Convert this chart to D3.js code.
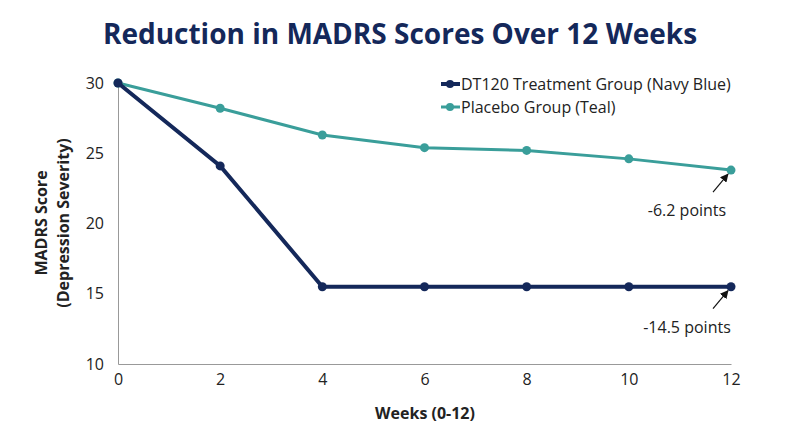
<!DOCTYPE html>
<html><head><meta charset="utf-8">
<script src="https://cdn.jsdelivr.net/npm/d3@7"></script>
<style>body{margin:0;background:#fff}text{font-family:"Open Sans",Lato,sans-serif}</style>
</head><body><svg id="main" width="800" height="447"></svg>
<script>
var weeks = [0, 2, 4, 6, 8, 10, 12];
var dt120 = [30, 24.1, 15.5, 15.5, 15.5, 15.5, 15.5];
var placebo = [30, 28.2, 26.3, 25.4, 25.2, 24.6, 23.8];
var yTicks = [10, 15, 20, 25, 30];
var seriesNames = ["DT120 Treatment Group (Navy Blue)", "Placebo Group (Teal)"];
var navy = "#14285a", teal = "#3a9e9a";

var svg = d3.select("#main");
var x = d3.scaleLinear().domain([0, 12]).range([118, 731]);
var y = d3.scaleLinear().domain([10, 30]).range([364, 83]);

svg.append("text").attr("x", 400).attr("y", 44).attr("text-anchor", "middle")
    .attr("font-size", 28).attr("font-weight", "bold").attr("fill", navy)
    .text("Reduction in MADRS Scores Over 12 Weeks");

var gx = svg.append("g").attr("transform", "translate(0,364)")
    .call(d3.axisBottom(x).tickValues(weeks).tickSize(0).tickPadding(10));
gx.select(".domain").attr("stroke", "#999");
gx.selectAll("text").attr("font-size", 16).attr("fill", "#222");

var gy = svg.append("g").attr("transform", "translate(118,0)")
    .call(d3.axisLeft(y).tickValues(yTicks).tickSize(0).tickPadding(14));
gy.select(".domain").attr("stroke", "#999");
gy.selectAll("text").attr("font-size", 16).attr("fill", "#222");

svg.append("text").attr("x", 425).attr("y", 419).attr("text-anchor", "middle")
    .attr("font-size", 16).attr("font-weight", "bold").attr("fill", "#222").text("Weeks (0-12)");
var yl = svg.append("text").attr("transform", "translate(50,223) rotate(-90)")
    .attr("text-anchor", "middle").attr("font-size", 16).attr("font-weight", "bold").attr("fill", "#222");
yl.append("tspan").attr("x", 0).attr("dy", -3).text("MADRS Score");
yl.append("tspan").attr("x", 0).attr("dy", 22).text("(Depression Severity)");

var line = d3.line().x(function (d, i) { return x(weeks[i]); }).y(function (d) { return y(d); });
[[placebo, teal, 3], [dt120, navy, 4]].forEach(function (s) {
    svg.append("path").datum(s[0]).attr("d", line).attr("fill", "none")
        .attr("stroke", s[1]).attr("stroke-width", s[2]);
    svg.selectAll(null).data(s[0]).enter().append("circle")
        .attr("cx", function (d, i) { return x(weeks[i]); })
        .attr("cy", function (d) { return y(d); })
        .attr("r", 4.5).attr("fill", s[1]);
});

// legend
[[navy, 4], [teal, 3]].forEach(function (c, i) {
    var ly = 84 + i * 23;
    svg.append("line").attr("x1", 441).attr("x2", 460).attr("y1", ly).attr("y2", ly)
        .attr("stroke", c[0]).attr("stroke-width", c[1]);
    svg.append("circle").attr("cx", 450).attr("cy", ly).attr("r", 4).attr("fill", c[0]);
    svg.append("text").attr("x", 461).attr("y", ly + 6).attr("font-size", 16).attr("fill", "#222")
        .text(seriesNames[i]);
});

// annotations
svg.append("defs").append("marker").attr("id", "arr").attr("viewBox", "0 0 10 10")
    .attr("refX", 9).attr("refY", 5).attr("markerWidth", 7).attr("markerHeight", 7)
    .attr("orient", "auto").append("path").attr("d", "M0,0L10,5L0,10z").attr("fill", "#111");
[[placebo[6], "-6.2 points"], [dt120[6], "-14.5 points"]].forEach(function (a) {
    var px = x(12), py = y(a[0]);
    svg.append("line").attr("x1", px - 18).attr("y1", py + 22).attr("x2", px - 3).attr("y2", py + 4)
        .attr("stroke", "#111").attr("stroke-width", 1.2).attr("marker-end", "url(#arr)");
    svg.append("text").attr("x", px - 44).attr("y", py + 46).attr("text-anchor", "middle")
        .attr("font-size", 16).attr("fill", "#222").text(a[1]);
});
</script></body></html>
